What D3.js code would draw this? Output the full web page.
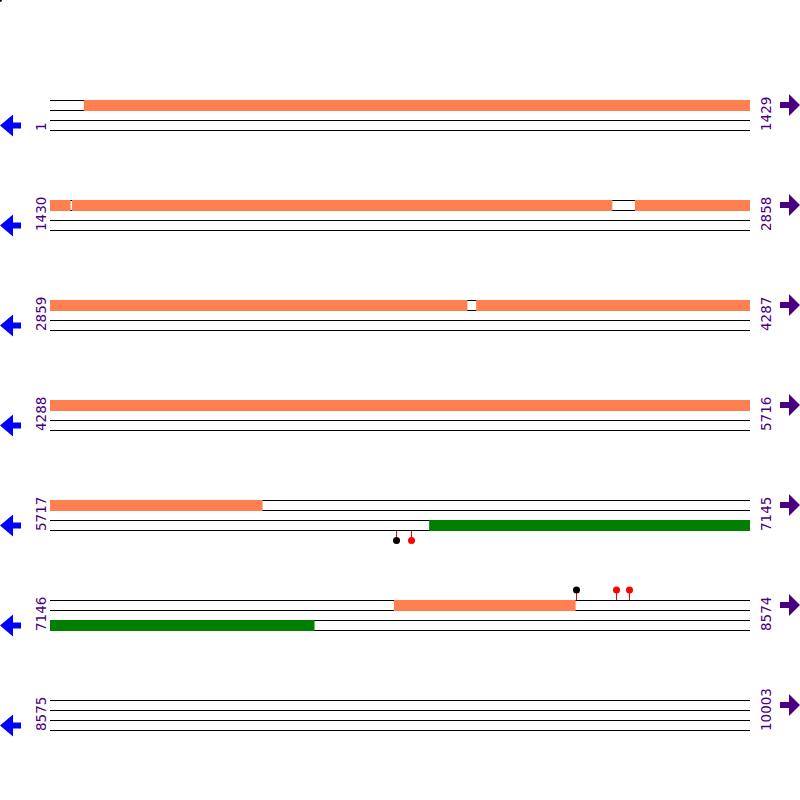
<!DOCTYPE html>
<html>
<head>
<meta charset="utf-8">
<script src="https://cdn.jsdelivr.net/npm/d3@7"></script>
<style>
  body { margin: 0; background: #fff; }
  svg { display: block; }
  .label { font-family: "DejaVu Sans", sans-serif; font-size: 13.5px; fill: #4b0082; }
</style>
</head>
<body>
<svg width="800" height="800"></svg>
<script>
// sequence layout
var seqLength = 10003;
var rowLength = 1429;

// features on the top strand [start, end]
var forwardFeatures = [
    [70, 1471],
    [1475, 2577],
    [2624, 3710],
    [3729, 6150],
    [7848, 8218]
];

// features on the bottom strand [start, end]
var reverseFeatures = [
    [6491, 7685]
];

// pins: position, strand, head colour
var pinPositions = [6423, 6452, 8218, 8301, 8326];
var pinStrands = [-1, -1, 1, 1, 1];
var pinColors = ["black", "red", "black", "red", "red"];

var margin = {top: 100, left: 50, right: 50},
    width = 800 - margin.left - margin.right,
    rowHeight = 100;

var nRows = Math.ceil(seqLength / rowLength);

var rows = d3.range(nRows).map(function(i) {
    return {
        index: i,
        start: i * rowLength + 1,
        end: Math.min((i + 1) * rowLength, seqLength)
    };
});

var svg = d3.select("svg");

// stray dot in the corner
svg.append("circle")
    .attr("cx", 0)
    .attr("cy", 0)
    .attr("r", 2)
    .attr("fill", "black");

function clip(feat, row) {
    var s = Math.max(feat[0], row.start),
        e = Math.min(feat[1], row.end);
    return s <= e ? [s, e] : null;
}

rows.forEach(function(row) {
    var x = d3.scaleLinear()
        .domain([row.start - 1, row.start - 1 + rowLength])
        .range([0, width]);

    var g = svg.append("g")
        .attr("transform", "translate(" + margin.left + "," + (margin.top + row.index * rowHeight) + ")");

    // strand lines
    g.selectAll("line.strand")
        .data([0, 10, 20, 30])
        .enter().append("line")
        .attr("class", "strand")
        .attr("x1", x(row.start - 1))
        .attr("x2", x(row.end))
        .attr("y1", function(d) { return d + 0.5; })
        .attr("y2", function(d) { return d + 0.5; })
        .attr("stroke", "black")
        .attr("stroke-width", 1);

    var fwd = forwardFeatures.map(function(f) { return clip(f, row); }).filter(Boolean);
    g.selectAll("rect.fwd")
        .data(fwd)
        .enter().append("rect")
        .attr("class", "fwd")
        .attr("x", function(d) { return x(d[0] - 1); })
        .attr("width", function(d) { return x(d[1]) - x(d[0] - 1); })
        .attr("y", 0)
        .attr("height", 11)
        .attr("fill", "#ff7f50");

    var rev = reverseFeatures.map(function(f) { return clip(f, row); }).filter(Boolean);
    g.selectAll("rect.rev")
        .data(rev)
        .enter().append("rect")
        .attr("class", "rev")
        .attr("x", function(d) { return x(d[0] - 1); })
        .attr("width", function(d) { return x(d[1]) - x(d[0] - 1); })
        .attr("y", 20)
        .attr("height", 11)
        .attr("fill", "green");

    // pins
    var pins = pinPositions.map(function(p, i) {
        return {pos: p, strand: pinStrands[i], color: pinColors[i]};
    }).filter(function(d) { return d.pos >= row.start && d.pos <= row.end; });

    var pin = g.selectAll("g.pin")
        .data(pins)
        .enter().append("g")
        .attr("class", "pin");

    pin.append("line")
        .attr("x1", function(d) { return Math.round(x(d.pos)) + 0.5; })
        .attr("x2", function(d) { return Math.round(x(d.pos)) + 0.5; })
        .attr("y1", function(d) { return d.strand > 0 ? 0 : 31; })
        .attr("y2", function(d) { return d.strand > 0 ? -10 : 40; })
        .attr("stroke", "red");

    pin.append("circle")
        .attr("cx", function(d) { return Math.round(x(d.pos)) + 0.5; })
        .attr("cy", function(d) { return d.strand > 0 ? -10 : 40.5; })
        .attr("r", 3.5)
        .attr("fill", function(d) { return d.color; });

    // start / end labels
    g.append("text")
        .attr("class", "label")
        .attr("transform", "translate(" + (-4) + ",31) rotate(-90)")
        .text(row.start);

    g.append("text")
        .attr("class", "label")
        .attr("transform", "translate(" + (width + 21) + ",31) rotate(-90)")
        .text(row.end);

    // strand arrows
    g.append("path")
        .attr("d", "M-50,25.5 L-37,14.5 L-37,22.5 L-29,22.5 L-29,28.5 L-37,28.5 L-37,36.5 Z")
        .attr("fill", "blue");

    var r = width;
    g.append("path")
        .attr("d", "M" + (r + 50) + ",5 L" + (r + 39) + ",-6 L" + (r + 39) + ",2 L" + (r + 30) + ",2 L" + (r + 30) + ",8 L" + (r + 39) + ",8 L" + (r + 39) + ",16 Z")
        .attr("fill", "#4b0082");
});
</script>
</body>
</html>
